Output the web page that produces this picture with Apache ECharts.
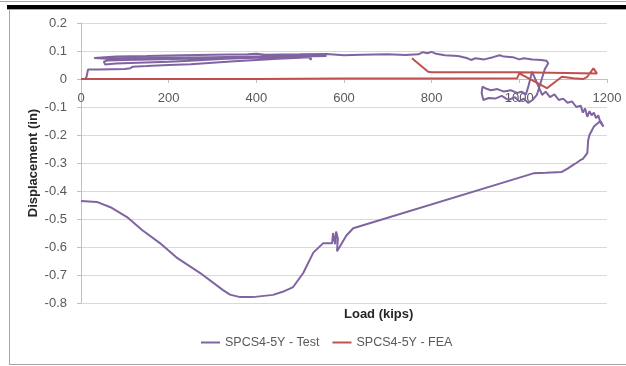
<!DOCTYPE html>
<html>
<head>
<meta charset="utf-8">
<script src="https://cdn.jsdelivr.net/npm/echarts@6.0.0/dist/echarts.min.js"></script>
<style>
  html, body { margin: 0; padding: 0; background: #ffffff; }
  #chart { width: 626px; height: 366px; }
</style>
</head>
<body>
<div id="chart"></div>
<script>
// Load–displacement record for specimen SPCS4-5Y (test vs. finite element analysis)
const seriesNames = ['SPCS4-5Y - Test', 'SPCS4-5Y - FEA'];

// Measured response (load in kips, displacement in inches), in recording order
const testLoad = [
  0, 10, 13, 16, 40, 70, 100, 112, 118, 150, 200, 250, 300, 350, 400, 450, 500, 520, 525, 523,
  510, 450, 400, 330, 260, 200, 130, 80, 55, 52, 60, 100, 160, 240, 300, 400, 470, 530, 560, 500,
  400, 300, 200, 120, 60, 30, 30, 80, 150, 230, 300, 380, 400, 420, 500, 560, 600, 640, 700, 740,
  770, 780, 790, 800, 810, 830, 860, 880, 890, 900, 920, 940, 955, 965, 985, 1000, 1010, 1030, 1050, 1062,
  1066, 1058, 1040, 1030, 1020, 1010, 1000, 990, 975, 960, 945, 930, 918, 914, 916, 925, 935, 950, 965, 980,
  995, 1005, 1015, 1020, 1029, 1052, 1060, 1070, 1080, 1090, 1100, 1110, 1120, 1130, 1140, 1145, 1150, 1155, 1160, 1165,
  1170, 1175, 1180, 1185, 1192, 1185, 1170, 1160, 1157, 1155, 1145, 1139, 1130, 1123, 1110, 1097, 1060, 1032, 621, 605,
  590, 584, 586, 582, 580, 575, 573, 552, 530, 507, 484, 460, 438, 392, 363, 340, 324, 272, 220, 180,
  140, 105, 70, 36, 0
];
const testDisp = [
  0, 0, 0.01, 0.034, 0.034, 0.035, 0.036, 0.038, 0.044, 0.046, 0.05, 0.053, 0.058, 0.063, 0.068, 0.072, 0.076, 0.078, 0.068, 0.085,
  0.082, 0.078, 0.076, 0.072, 0.066, 0.062, 0.058, 0.055, 0.052, 0.062, 0.066, 0.068, 0.07, 0.072, 0.075, 0.078, 0.08, 0.083, 0.082, 0.08,
  0.08, 0.078, 0.076, 0.074, 0.072, 0.075, 0.079, 0.08, 0.082, 0.085, 0.087, 0.088, 0.09, 0.087, 0.088, 0.089, 0.085, 0.087, 0.088, 0.086,
  0.088, 0.096, 0.092, 0.097, 0.09, 0.085, 0.082, 0.075, 0.068, 0.074, 0.07, 0.078, 0.085, 0.08, 0.078, 0.07, 0.074, 0.07, 0.068, 0.065,
  0.056, 0.035, -0.057, -0.075, -0.085, -0.07, -0.08, -0.065, -0.075, -0.06, -0.07, -0.068, -0.075, -0.05, -0.027, -0.035, -0.04, -0.036, -0.045, -0.04,
  -0.05, -0.045, -0.055, -0.03, 0.026, -0.057, -0.045, -0.065, -0.055, -0.075, -0.07, -0.085, -0.08, -0.1, -0.095, -0.12, -0.105, -0.135, -0.115, -0.13,
  -0.12, -0.14, -0.13, -0.155, -0.17, -0.15, -0.17, -0.2, -0.22, -0.265, -0.285, -0.29, -0.3, -0.307, -0.32, -0.332, -0.335, -0.337, -0.533, -0.56,
  -0.6, -0.615, -0.57, -0.545, -0.59, -0.55, -0.587, -0.587, -0.62, -0.693, -0.743, -0.76, -0.771, -0.779, -0.779, -0.77, -0.754, -0.693, -0.64, -0.586,
  -0.54, -0.493, -0.46, -0.439, -0.436
];

// Analytical response
const feaLoad = [0, 200, 400, 600, 800, 995, 1000, 1063, 1097, 1123, 1146, 1155, 1169, 1177, 1175, 1000, 800, 792, 755];
const feaDisp = [0, 0, 0, 0.002, 0.002, 0.003, 0.02, -0.033, 0.008, 0.003, 0.0, 0.008, 0.038, 0.02, 0.024, 0.024, 0.024, 0.026, 0.074];

// Axis ranges
const xMin = 0, xMax = 1200, xStep = 200;
const yMin = -0.8, yMax = 0.2, yStep = 0.1;

const pair = (xs, ys) => xs.map((x, i) => [x, ys[i]]);

const labelColor = '#595959';
const axisColor = '#BFBFBF';
const font = 'Liberation Sans';

// Plot area in pixels; the load axis sits on the zero-displacement line
const plot = { left: 81, right: 19, top: 23, bottom: 63 };
const plotHeight = 366 - plot.top - plot.bottom;
const zeroFromBottom = plotHeight * (0 - yMin) / (yMax - yMin);

const chart = echarts.init(document.getElementById('chart'), null, { renderer: 'canvas' });
chart.setOption({
  animation: false,
  backgroundColor: '#ffffff',
  textStyle: { fontFamily: font },
  grid: { left: plot.left, right: plot.right, top: plot.top, bottom: plot.bottom, containLabel: false, outerBoundsMode: 'none' },
  graphic: [
    { type: 'rect', shape: { x: 0, y: 1, width: 626, height: 1 }, style: { fill: '#A6A6A6' }, silent: true },
    { type: 'rect', shape: { x: 7, y: 5, width: 619, height: 4 }, style: { fill: '#000000' }, silent: true },
    { type: 'rect', shape: { x: 7, y: 9, width: 619, height: 1 }, style: { fill: '#A6A6A6' }, silent: true },
    { type: 'rect', shape: { x: 9, y: 10, width: 1, height: 355 }, style: { fill: '#A6A6A6' }, silent: true },
    { type: 'rect', shape: { x: 9, y: 364, width: 617, height: 1 }, style: { fill: '#A6A6A6' }, silent: true },
    {
      type: 'text', left: 344, top: 308,
      style: { text: 'Load (kips)', fill: '#262626', font: 'bold 13px "Liberation Sans"', textAlign: 'center' }
    },
    {
      type: 'text', x: 33, y: 163, rotation: Math.PI / 2,
      style: {
        text: 'Displacement (in)', fill: '#262626', font: 'bold 13px "Liberation Sans"',
        textAlign: 'center', textVerticalAlign: 'middle'
      }
    }
  ],
  legend: {
    data: seriesNames,
    bottom: 12,
    left: 196,
    icon: 'rect',
    itemWidth: 19,
    itemHeight: 2,
    itemGap: 13,
    textStyle: { color: labelColor, fontSize: 12.5, fontFamily: font }
  },
  xAxis: {
    type: 'value',
    position: 'bottom',
    offset: -zeroFromBottom,
    min: xMin, max: xMax, interval: xStep,
    axisLine: { onZero: false, lineStyle: { color: axisColor, width: 1 } },
    axisTick: { show: true, length: 4, lineStyle: { color: axisColor } },
    axisLabel: { color: labelColor, fontSize: 13, margin: 13, fontFamily: font, formatter: v => String(v) },
    splitLine: { show: false }
  },
  yAxis: {
    type: 'value',
    min: yMin, max: yMax, interval: yStep,
    axisLine: { show: true, onZero: false, lineStyle: { color: axisColor, width: 1 } },
    axisTick: { show: true, length: 4, lineStyle: { color: axisColor } },
    axisLabel: {
      color: labelColor, fontSize: 13, margin: 14, fontFamily: font,
      formatter: v => String(+v.toFixed(1))
    },
    splitLine: { show: true, lineStyle: { color: '#D9D9D9', width: 1 } }
  },
  series: [
    {
      name: seriesNames[0], type: 'line', data: pair(testLoad, testDisp),
      showSymbol: false, symbol: 'none', smooth: false,
      lineStyle: { color: '#8064A2', width: 2 }, itemStyle: { color: '#8064A2' }
    },
    {
      name: seriesNames[1], type: 'line', data: pair(feaLoad, feaDisp),
      showSymbol: false, symbol: 'none', smooth: false,
      lineStyle: { color: '#C0504D', width: 2 }, itemStyle: { color: '#C0504D' }
    }
  ]
});
</script>
</body>
</html>
